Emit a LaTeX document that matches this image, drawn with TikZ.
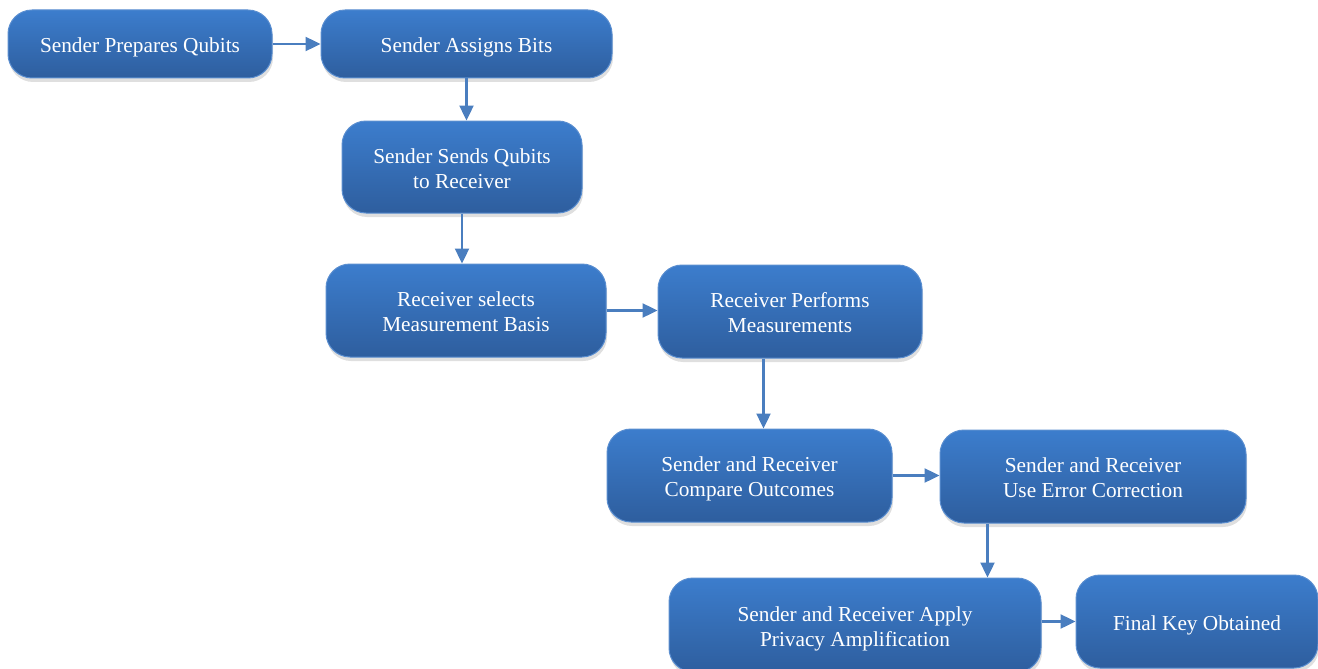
\documentclass[tikz,border=0pt]{standalone}
\usepackage{fontspec}
\setmainfont{Liberation Serif}
\usetikzlibrary{arrows.meta,shadows,calc}
\definecolor{boxtop}{HTML}{3C7DCD}
\definecolor{boxbot}{HTML}{2E5E9E}
\definecolor{boxedge}{HTML}{5A8ED0}
\definecolor{arrowblue}{HTML}{4A7EBF}
\tikzset{
  stepbox/.style={rectangle, rounded corners=24pt, draw=boxedge, line width=1pt,
    top color=boxtop, bottom color=boxbot, text=white, align=center,
    inner sep=0pt, font=\fontsize{21.3}{25}\selectfont,
    drop shadow={opacity=0.25, shadow xshift=1pt, shadow yshift=-4pt}},
  oneline/.style={text height=18pt, text depth=0pt},
  twoline/.style={text height=42pt, text depth=0pt},
  flow/.style={draw=arrowblue, line width=2.4pt,
    -{Triangle[length=15pt,width=14pt]}}
}
\begin{document}
\begin{tikzpicture}[x=1pt,y=-1pt]
\useasboundingbox (0,0) rectangle (1318,669);
\clip (0,0) rectangle (1318,669);
\node[stepbox, oneline, minimum width=264pt, minimum height=68pt] (n1) at (140,44) {Sender Prepares Qubits};
\node[stepbox, oneline, minimum width=291pt, minimum height=68pt] (n2) at (466.5,44) {Sender Assigns Bits};
\node[stepbox, twoline, minimum width=240pt, minimum height=92pt] (n3) at (462,167) {Sender Sends Qubits\\to Receiver};
\node[stepbox, twoline, minimum width=280pt, minimum height=93pt] (n4) at (466,310.5) {Receiver selects\\Measurement Basis};
\node[stepbox, twoline, minimum width=264pt, minimum height=93pt] (n5) at (790,311.5) {Receiver Performs\\Measurements};
\node[stepbox, twoline, minimum width=285pt, minimum height=93pt] (n6) at (749.5,475.5) {Sender and Receiver\\Compare Outcomes};
\node[stepbox, twoline, minimum width=306pt, minimum height=93pt] (n7) at (1093,476.5) {Sender and Receiver\\Use Error Correction};
\node[stepbox, twoline, minimum width=372pt, minimum height=94pt] (n8) at (855,625) {Sender and Receiver Apply\\Privacy Amplification};
\node[stepbox, oneline, minimum width=242pt, minimum height=93pt] (n9) at (1197,621.5) {Final Key Obtained};

\draw[flow] (n1.east) -- (n2.west |- n1.east);
\draw[flow] (n2.south) -- (n2.south |- n3.north);
\draw[flow] (n3.south) -- (n3.south |- n4.north);
\draw[flow] (n4.east) -- (n5.west |- n4.east);
\coordinate (c5) at ($(n5.south west)+(106,0)$);
\draw[flow] (c5) -- (c5 |- n6.north);
\draw[flow] (n6.east) -- (n7.west |- n6.east);
\coordinate (c7) at ($(n7.south west)+(48,0)$);
\draw[flow] (c7) -- (c7 |- n8.north);
\draw[flow] (n8.east |- n9.west) -- (n9.west);
\end{tikzpicture}
\end{document}
